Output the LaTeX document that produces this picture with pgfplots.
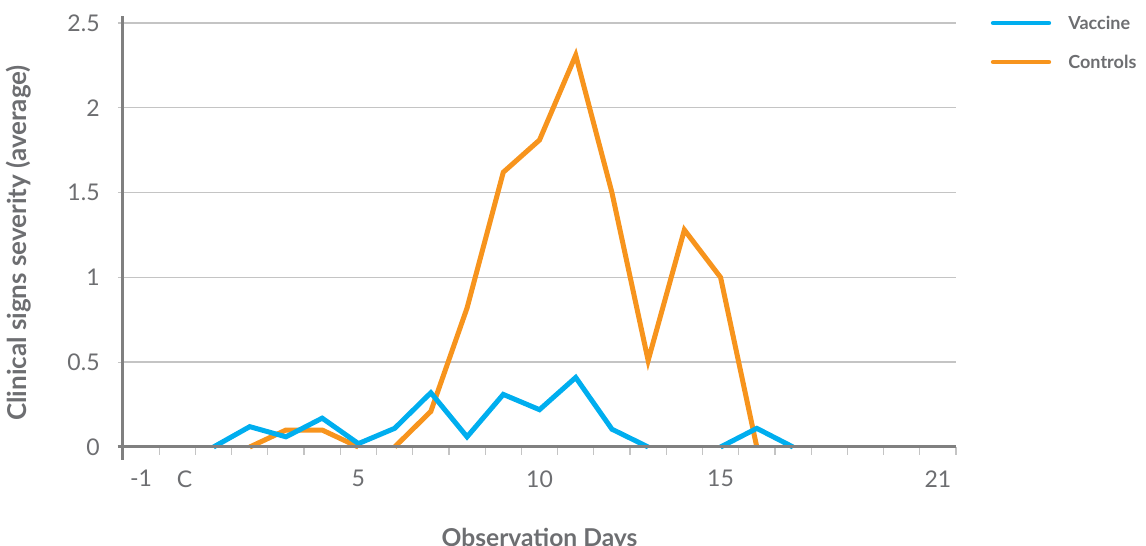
\documentclass[border=0pt]{standalone}
\usepackage{fontspec}
\setmainfont{Lato}
\usepackage{pgfplots}
\pgfplotsset{compat=1.18}
\definecolor{vacc}{HTML}{00AEEF}
\definecolor{ctrl}{HTML}{F7941D}
\definecolor{txtgray}{HTML}{6D6E71}
\definecolor{axgray}{HTML}{808080}
\definecolor{gridgray}{HTML}{C4C4C4}
\begin{document}
\begin{tikzpicture}
\begin{axis}[
  scale only axis,
  width=416.5pt, height=212pt,
  at={(0,0)}, anchor=south west,
  xmin=-1.5, xmax=21.5,
  ymin=0, ymax=2.5,
  axis x line*=bottom, axis y line*=left,
  axis line style={draw=none},
  xtick={-1,0.2,5,10,15,21},
  xticklabels={-1,C,5,10,15,21},
  major x tick style={draw=none},
  minor xtick={-0.5,0.5,...,21.5},
  minor x tick style={draw=gridgray, line width=0.6pt},
  minor tick length=4pt,
  xtick align=outside,
  ytick={0,0.5,1,1.5,2,2.5},
  yticklabels={0,0.5,1,1.5,2,2.5},
  ytick align=outside,
  major tick length=2.5pt,
  major y tick style={draw=gridgray, line width=0.6pt},
  ymajorgrids,
  major y grid style={draw=gridgray, line width=0.7pt},
  /pgf/number format/assume math mode=true,
  ticklabel style={font=\fontsize{11.5}{12}\selectfont, text=txtgray},
  xticklabel style={anchor=north, inner sep=0pt, yshift=-9pt},
  yticklabel style={anchor=east, inner sep=0pt, xshift=-9pt},
  xlabel={Observation Days},
  ylabel={Clinical signs severity (average)},
  xlabel style={at={(axis description cs:0.5,-0.191)}, anchor=north, inner sep=0pt, font=\bfseries\fontsize{12.3}{13}\selectfont, text=txtgray},
  ylabel style={at={(axis description cs:-0.1249,0.481)}, anchor=center, inner sep=0pt, font=\bfseries\fontsize{13}{14}\selectfont, text=txtgray},
  unbounded coords=jump,
  clip=false,
]
\addplot[ctrl, line width=2.5pt, line join=miter] coordinates {
  (2,0) (3,0.1) (4,0.1) (5,0) (5.5,nan) (6,0) (7,0.21) (8,0.82) (9,1.62) (10,1.81)
  (11,2.31) (12,1.50) (13,0.51) (14,1.28) (15,1.0) (16,0)
};
\addplot[vacc, line width=2.5pt, line join=miter] coordinates {
  (1,0) (2,0.12) (3,0.06) (4,0.17) (5,0.02) (6,0.11) (7,0.32) (8,0.06)
  (9,0.31) (10,0.22) (11,0.41) (12,0.105) (13,0) (14,nan) (15,0) (16,0.11) (17,0)
};
\draw[axgray, line width=1.5pt] (axis cs:-1.5,-0.075) -- (axis cs:-1.5,2.542);
\draw[axgray, line width=1.5pt] (axis cs:-1.65,0) -- (axis cs:21.5,0);
\end{axis}
% legend
\draw[vacc, line width=2.2pt, line cap=round] (435pt,212pt) -- (463pt,212pt);
\draw[ctrl, line width=2.2pt, line cap=round] (435pt,192.5pt) -- (463pt,192.5pt);
\node[anchor=west, inner sep=0pt, text=txtgray, font=\bfseries\fontsize{9}{10}\selectfont] at (472.5pt,212pt) {Vaccine};
\node[anchor=west, inner sep=0pt, text=txtgray, font=\bfseries\fontsize{9}{10}\selectfont] at (472.5pt,192.5pt) {Controls};
\pgfresetboundingbox
\useasboundingbox (-61.5pt,-49.5pt) rectangle (511.5pt,223.5pt);
\end{tikzpicture}
\end{document}
